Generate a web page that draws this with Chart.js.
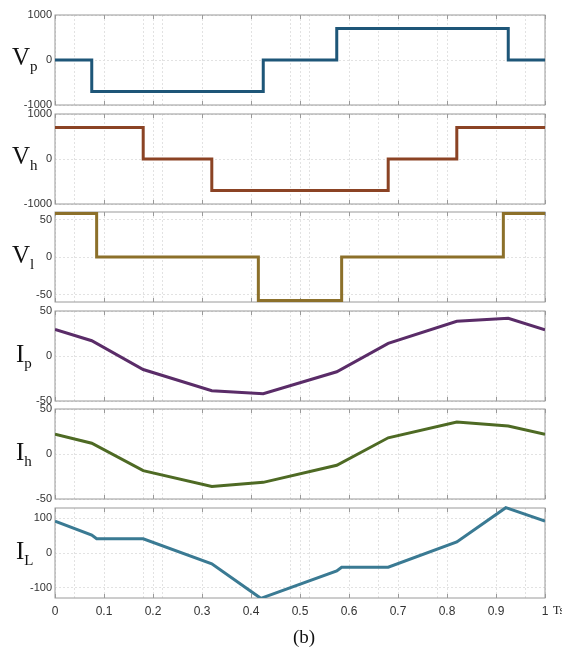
<!DOCTYPE html>
<html>
<head>
<meta charset="utf-8">
<script src="https://cdn.jsdelivr.net/npm/chart.js@4.4.1/dist/chart.umd.min.js"></script>
<style>
  body{margin:0;background:#fff;}
  #wrap{position:relative;width:562px;height:648px;overflow:hidden;}
  #wrap canvas{position:absolute;left:0;}
  .lbl{position:absolute;font-family:"Liberation Serif","DejaVu Serif",serif;font-size:25px;color:#111;line-height:1;}
  .lbl sub{font-size:15px;vertical-align:-6px;}
  .ts{position:absolute;left:553px;top:603px;font-family:"Liberation Serif",serif;font-size:12px;color:#222;}
  .cap{position:absolute;left:293px;top:626px;font-family:"Liberation Serif",serif;font-size:19px;color:#111;}
</style>
</head>
<body>
<div id="wrap"></div>
<script>
// x axis
const xLabels = [0,0.1,0.2,0.3,0.4,0.5,0.6,0.7,0.8,0.9,1];
const xExtraGrid = [0.04,0.18,0.22,0.48,0.52,0.66,0.78,0.96];

// Vp (step, value holds until next time)
const vpT = [0, 0.075, 0.425, 0.575, 0.925, 1];
const vpV = [0, -700, 0, 700, 0, 0];
// Vh
const vhT = [0, 0.18, 0.32, 0.68, 0.82, 1];
const vhV = [700, 0, -700, 0, 700, 700];
// Vl
const vlT = [0, 0.085, 0.415, 0.585, 0.915, 1];
const vlV = [58, 0, -58, 0, 58, 58];
// Ip
const ipT = [0, 0.075, 0.18, 0.32, 0.425, 0.575, 0.68, 0.82, 0.925, 1];
const ipV = [29.5, 17, -15, -38.5, -42, -17.5, 14, 38.5, 42, 29];
// Ih
const ihT = [0, 0.075, 0.18, 0.32, 0.425, 0.575, 0.68, 0.82, 0.925, 1];
const ihV = [22, 12, -18.5, -36, -31.5, -12.5, 18, 35.5, 31, 22];
// IL
const ilT = [0, 0.075, 0.085, 0.18, 0.32, 0.42, 0.575, 0.585, 0.68, 0.82, 0.92, 1];
const ilV = [92, 52, 41, 41, -31, -131, -52, -41, -41, 32, 131, 92];

// y ticks per panel
const vpTicks = [-1000, 0, 1000];
const vhTicks = [-1000, 0, 1000];
const vlTicks = [-50, 0, 50];
const ipTicks = [-50, 0, 50];
const ihTicks = [-50, 0, 50];
const ilTicks = [-100, 0, 100];

const panels = [
  {name:'V', sub:'p', color:'#1e5678', t:vpT, v:vpV, min:-1000, max:1000, ticks:vpTicks, step:true,  top:14.5},
  {name:'V', sub:'h', color:'#8b4324', t:vhT, v:vhV, min:-1000, max:1000, ticks:vhTicks, step:true,  top:113.5},
  {name:'V', sub:'l', color:'#8c702a', t:vlT, v:vlV, min:-60,   max:60,   ticks:vlTicks, step:true,  top:211.8},
  {name:'I', sub:'p', color:'#5a2c68', t:ipT, v:ipV, min:-50,   max:50,   ticks:ipTicks, step:false, top:311},
  {name:'I', sub:'h', color:'#4e6a24', t:ihT, v:ihV, min:-50,   max:50,   ticks:ihTicks, step:false, top:409.3},
  {name:'I', sub:'L', color:'#3a7a93', t:ilT, v:ilV, min:-130,  max:130,  ticks:ilTicks, step:false, top:507.8}
];

const PANEL_H = 89.5, PAD = 12, XAXIS_H = 30;
const wrap = document.getElementById('wrap');

// grey frame round each plot
const boxPlugin = {
  id:'box',
  beforeDatasetsDraw(chart){
    const a = chart.chartArea, ctx = chart.ctx;
    ctx.save();
    ctx.strokeStyle = '#9a9a9a';
    ctx.lineWidth = 1;
    ctx.strokeRect(a.left, a.top, a.right-a.left, a.bottom-a.top);
    // small inner ticks on top and bottom edges
    const xs = chart.scales.x;
    ctx.beginPath();
    xLabels.forEach(v=>{
      const px = Math.round(xs.getPixelForValue(v))+0.5;
      ctx.moveTo(px, a.top); ctx.lineTo(px, a.top+4);
      ctx.moveTo(px, a.bottom); ctx.lineTo(px, a.bottom-4);
    });
    ctx.stroke();
    ctx.restore();
  }
};

panels.forEach((p, i)=>{
  const last = i === panels.length-1;
  const h = Math.round(PAD + PANEL_H + (last ? XAXIS_H : PAD));
  const c = document.createElement('canvas');
  c.width = 562; c.height = h;
  c.style.top = (p.top - PAD)+'px';
  c.style.width = '562px'; c.style.height = h+'px';
  wrap.appendChild(c);

  // label at left
  const l = document.createElement('div');
  l.className = 'lbl';
  l.innerHTML = p.name+'<sub>'+p.sub+'</sub>';
  l.style.left = (p.name==='V' ? 12 : 16)+'px';
  l.style.top = (p.top + PANEL_H/2 - 15)+'px';
  wrap.appendChild(l);

  new Chart(c, {
    type:'line',
    data:{datasets:[{
      data: p.t.map((t,k)=>({x:t, y:p.v[k]})),
      borderColor:p.color, borderWidth:3, pointRadius:0,
      stepped: p.step ? 'before' : false, tension:0,
      borderJoinStyle:'miter', clip:{left:0,right:0,top:2,bottom:0}
    }]},
    options:{
      responsive:false, animation:false, events:[],
      layout:{padding:{top:PAD, bottom:last?0:PAD, left:0, right:17}},
      plugins:{legend:{display:false}, tooltip:{enabled:false}},
      scales:{
        x:{
          type:'linear', min:0, max:1,
          afterBuildTicks:s=>{ s.ticks = xLabels.concat(xExtraGrid).sort((a,b)=>a-b).map(v=>({value:v})); },
          afterFit:s=>{ s.height = last ? XAXIS_H : 0; },
          grid:{color:'#e2e2e2', lineWidth:1, drawTicks:false},
          border:{display:false, dash:[2,2]},
          ticks:{
            display:last, padding:6, color:'#333', maxRotation:0, autoSkip:false,
            font:{family:'"Liberation Sans", Arial, sans-serif', size:12},
            callback:v=> xLabels.includes(v) ? String(v) : ''
          }
        },
        y:{
          min:p.min, max:p.max,
          afterBuildTicks:s=>{ s.ticks = p.ticks.map(v=>({value:v})); },
          afterFit:s=>{ s.width = 55; },
          grid:{color:'#e2e2e2', lineWidth:1, drawTicks:false},
          border:{display:false, dash:[2,2]},
          ticks:{
            padding:3, color:'#333',
            font:{family:'"Liberation Sans", Arial, sans-serif', size:11},
            callback:v=>String(v)
          }
        }
      }
    },
    plugins:[boxPlugin]
  });
});

const ts = document.createElement('div'); ts.className='ts'; ts.textContent='Ts'; wrap.appendChild(ts);
const cap = document.createElement('div'); cap.className='cap'; cap.textContent='(b)'; wrap.appendChild(cap);
</script>
</body>
</html>
